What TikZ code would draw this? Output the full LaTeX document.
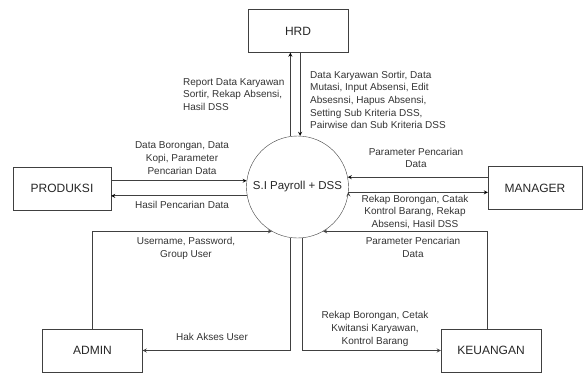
\documentclass[tikz,border=0pt]{standalone}
\usepackage{fontspec}
\setmainfont{Liberation Sans}
\usetikzlibrary{arrows,positioning}
\tikzset
{
    entity/.style  = {rectangle, draw=black!75, minimum width=100pt, minimum height=43pt, inner sep=0pt, font=\fontsize{12}{14}\selectfont, text=black!85},
    process/.style = {circle, draw=black!75, minimum size=102pt, inner sep=0pt, font=\fontsize{11.5}{14}\selectfont, text=black!85},
    flow/.style    = {->, >=stealth, draw=black!75, line width=0.8pt},
    flowtext/.style = {align=center, inner sep=0pt, font=\fontsize{10}{12.7}\selectfont, text=black!80}
}

\begin{document}
\begin{tikzpicture}[x=1pt, y=-1pt]
   \useasboundingbox (0,0) rectangle (583,373);

   \node (c)    [process]                          at (297.5, 187)   {S.I Payroll + DSS};
   \node (hrd)  [entity]                           at (298, 31)      {HRD};
   \node (prod) [entity, minimum width=98pt]       at (62, 188.5)    {PRODUKSI};
   \node (man)  [entity, minimum width=94pt]       at (535, 188)     {MANAGER};
   \node (adm)  [entity]                           at (92.5, 350.5)  {ADMIN};
   \node (keu)  [entity]                           at (491, 350.5)   {KEUANGAN};

   % labels
   \node (lrep) [flowtext, align=left, anchor=west] at (183, 94.5)   {Report Data Karyawan\\Sortir, Rekap Absensi,\\Hasil DSS};
   \node (ldat) [flowtext, align=left, anchor=west] at (310, 100)    {Data Karyawan Sortir, Data\\Mutasi, Input Absensi, Edit\\Absesnsi, Hapus Absensi,\\Setting Sub Kriteria DSS,\\Pairwise dan Sub Kriteria DSS};
   \node (lbor) [flowtext]                          at (182, 158)    {Data Borongan, Data\\Kopi, Parameter\\Pencarian Data};
   \node (lhas) [flowtext]                          at (182, 205)    {Hasil Pencarian Data};
   \node (lusr) [flowtext]                          at (186, 248.5)  {Username, Password,\\Group User};
   \node (lhak) [flowtext]                          at (212, 337)    {Hak Akses User};
   \node (lpm1) [flowtext]                          at (416, 158)    {Parameter Pencarian\\Data};
   \node (lrk1) [flowtext]                          at (415, 212)    {Rekap Borongan, Catak\\Kontrol Barang, Rekap\\Absensi, Hasil DSS};
   \node (lpm2) [flowtext]                          at (413, 247.5)  {Parameter Pencarian\\Data};
   \node (lrk2) [flowtext]                          at (375, 329)    {Rekap Borongan, Cetak\\Kwitansi Karyawan,\\Kontrol Barang};

   \path[flow]
      (c.98)                edge  (c.98 |- hrd.south)
      (c.87 |- hrd.south)   edge  (c.87)
      (prod.east |- c.173)  edge  (c.173)
      (c.190)               edge  (c.190 -| prod.east)
      (man.west |- c.11)    edge  (c.11)
      (c.354)               edge  (c.354 -| man.west);

   \draw[flow] (adm) |- (c.240);
   \draw[flow] (c.262) |- (adm);
   \draw[flow] (c.276) |- (keu);
   \draw[flow] ([xshift=-4pt]keu.north) |- (c.300);
\end{tikzpicture}
\end{document}
